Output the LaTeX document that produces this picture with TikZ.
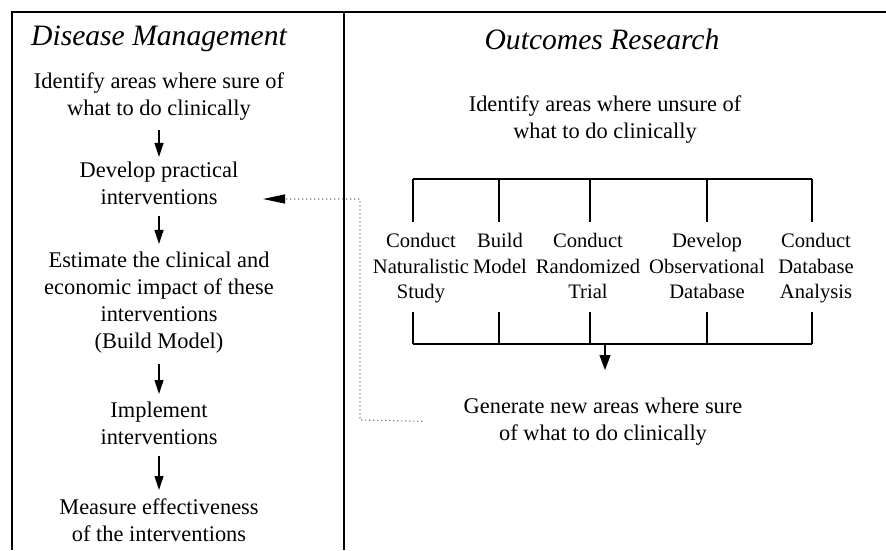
\documentclass[tikz,border=0pt]{standalone}
\usepackage{fontspec}
\setmainfont{Liberation Serif}
\usetikzlibrary{arrows.meta}

\begin{document}
\begin{tikzpicture}[
    x=0.5pt, y=-0.5pt,
    txt/.style={align=center, anchor=north, inner sep=1pt, font=\fontsize{11.2}{13.5}\selectfont},
    ttl/.style={anchor=base, inner sep=0pt, font=\fontsize{14.8}{17}\selectfont\itshape},
    opt/.style={align=center, anchor=north, inner sep=1pt, font=\fontsize{10.3}{12.75}\selectfont},
    arr/.style={-{Triangle[length=7pt,width=4.5pt]}, line width=0.6pt, shorten <=4pt, shorten >=3pt},
    frame/.style={line width=1pt},
    rail/.style={line width=0.7pt},
    link/.style={gray, line width=0.6pt, dash pattern=on 0.6pt off 1.4pt,
                 -{Triangle[length=11pt,width=4.5pt,color=black]}}
  ]
    \useasboundingbox (0,0) rectangle (886,550);

    %% ---- frame: two panels, open at the bottom ----
    \draw[frame] (12,550) -- (12,12) -- (886,12);
    \draw[frame] (344,12) -- (344,550);

    %% ---- Left panel: Disease Management ----
    \node[ttl] (dm) at (159,46) {Disease Management};
    \node[txt] (l1) at (159,70)  {Identify areas where sure of\\what to do clinically};
    \node[txt] (l2) at (159,160) {Develop practical\\interventions};
    \node[txt] (l3) at (159,250) {Estimate the clinical and\\economic impact of these\\interventions\\(Build Model)};
    \node[txt] (l4) at (159,400) {Implement\\interventions};
    \node[txt] (l5) at (159,496) {Measure effectiveness\\of the interventions};

    \draw[arr, shorten >=1.5pt] (l1) -- (l2);
    \draw[arr] (l2) -- (l3);
    \draw[arr] (l3) -- (l4);
    \draw[arr] (l4) -- (l5);

    %% ---- Right panel: Outcomes Research ----
    \node[ttl] (or) at (602,50) {Outcomes Research};
    \node[txt] (r1) at (605,93) {Identify areas where unsure of\\what to do clinically};

    \node[opt] (o1) at (421,231) {Conduct\\Naturalistic\\Study};
    \node[opt] (o2) at (500,231) {Build\\Model};
    \node[opt] (o3) at (588,231) {Conduct\\Randomized\\Trial};
    \node[opt] (o4) at (707,231) {Develop\\Observational\\Database};
    \node[opt] (o5) at (816,231) {Conduct\\Database\\Analysis};

    % rails above and below the options
    \foreach \k/\x in {1/413, 2/499, 3/590, 4/707, 5/812} {
      \coordinate (up\k) at (\x,179);
      \coordinate (dn\k) at (\x,344);
      \draw[rail] (up\k) -- ++(0,43);
      \draw[rail] (dn\k) -- ++(0,-32);
    }
    \draw[rail] (up1) -- (up5);
    \draw[rail] (dn1) -- (dn5);

    \node[txt] (r2) at (603,396) {Generate new areas where sure\\of what to do clinically};
    \coordinate (join) at (605,344);
    \draw[arr, shorten <=0pt, shorten >=0pt, -{Triangle[length=7.5pt,width=5.5pt]}] (join) -- ++(0,26);

    % feedback into the left panel
    \coordinate (turn) at (360,420);
    \coordinate (back) at (263,199);
    \draw[link, shorten <=19.5pt] (r2.west) -- (turn) |- (back);
\end{tikzpicture}
\end{document}
